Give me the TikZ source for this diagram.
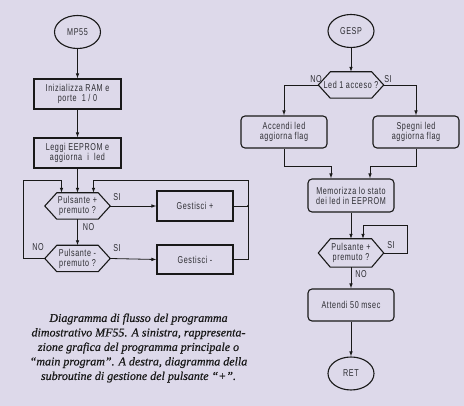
\documentclass[tikz,border=0pt]{standalone}
\usepackage{fontspec}
\setmainfont{Liberation Serif}
\newfontfamily\chartfont[FakeStretch=0.72,LetterSpace=6]{Liberation Sans}
\newfontfamily\capfont[FakeBold=0.6]{Liberation Serif}
\usetikzlibrary{shapes.geometric,arrows.meta}
\definecolor{bg}{RGB}{221,217,234}
\definecolor{ink}{RGB}{25,25,25}
\definecolor{txt}{RGB}{45,45,50}
\newcommand\hexdraw[1]{\draw[hexborder] (#1.west) -- ([xshift=12pt]#1.north west) -- ([xshift=-12pt]#1.north east) -- (#1.east) -- ([xshift=-12pt]#1.south east) -- ([xshift=12pt]#1.south west) -- cycle;}
\begin{document}
\begin{tikzpicture}[x=1pt,y=-1pt,
  chart/.style={font=\chartfont\fontsize{10}{10}\selectfont, text=txt},
  box/.style={chart, draw=ink, line width=1.1pt, rectangle, minimum width=87pt, minimum height=30pt, inner sep=1pt, align=center},
  rbox/.style={box, rounded corners=4pt, minimum width=86pt, minimum height=32pt},
  term/.style={chart, ellipse, draw=ink, line width=1.1pt, minimum width=46pt, minimum height=33pt, inner sep=0pt},
  hexnode/.style={chart, rectangle, draw=none, minimum width=65pt, minimum height=26pt, inner sep=0pt, align=center},
  hexborder/.style={draw=ink, line width=1.1pt},
  flow/.style={draw=ink, line width=0.8pt, -{Latex[length=5pt,width=3.6pt]}},
  conn/.style={draw=ink, line width=0.8pt},
  lbl/.style={chart, inner sep=0pt},
  caption/.style={font=\capfont\itshape\fontsize{12}{14.5}\selectfont, text=ink, align=center, inner sep=0pt}
]
\fill[bg] (0,0) rectangle (464,406);
\useasboundingbox (0,0) rectangle (464,406);

% ---------- left: main program ----------
\node[term] (mp) at (77.5,32) {MP55};
\node[box] (ini) at (77.5,94) {Inizializza RAM e\\porte\ \ 1 / 0};
\node[box] (leg) at (77.5,153) {Leggi EEPROM e\\aggiorna\ \ i\ \ led};
\node[hexnode] (p1) at (77.5,206) {Pulsante +\\premuto ?};
\hexdraw{p1}
\node[hexnode] (p2) at (77.5,258.5) {Pulsante -\\premuto ?};
\hexdraw{p2}
\node[box, minimum width=76pt] (gp) at (195,206) {Gestisci +};
\node[box, minimum width=76pt, minimum height=29pt] (gm) at (195,259.5) {Gestisci -};
\coordinate (jr) at (248,206);
\coordinate (tr) at (248,180);
\coordinate (tl) at (23,180);

\draw[flow] (mp) -- (ini);
\draw[flow] (ini) -- (leg);
\draw[flow] (leg) -- (p1);
\draw[flow] (p1.south) -- (p2.north) node[lbl, pos=0.3, right=5pt] (no1) {NO};
\draw[flow] (p1.east) -- (gp.west);
\draw[flow] (p2.east) -- (gm.west);
\node[lbl] (si1) at (117,197) {SI};
\node[lbl] (si2) at (117,248) {SI};
\node[lbl] (no2) at (38,247) {NO};
\draw[conn] (gp.east) -- (jr);
\draw[flow] (gm.east) -| (tr) -| ([xshift=16pt]p1.north);
\draw[flow] (p2.west) -| (tl) -| ([xshift=-16pt]p1.north);
\fill[ink] (jr) circle (1pt);

% ---------- right: subroutine ----------
\node[term] (ge) at (351,31) {GESP};
\node[hexnode] (l1) at (351,85) {Led 1 acceso ?};
\hexdraw{l1}
\node[rbox] (acc) at (284,132) {Accendi led\\aggiorna flag};
\node[rbox] (spe) at (416,132) {Spegni led\\aggiorna flag};
\node[rbox, minimum height=33pt] (mem) at (351,195.5) {Memorizza lo stato\\dei led in EEPROM};
\node[hexnode, minimum height=28pt] (p3) at (351,253) {Pulsante +\\premuto ?};
\hexdraw{p3}
\node[rbox] (att) at (351,305) {Attendi 50 msec};
\node[term] (ret) at (351,373.5) {RET};
\coordinate (mjl) at (331,166);
\coordinate (mjr) at (370,166);
\coordinate (sl) at (407,225);

\draw[flow] (ge) -- (l1);
\draw[flow] (l1.west) -| (acc.north);
\draw[flow] (l1.east) -| (spe.north);
\node[lbl] (no3) at (316,79) {NO};
\node[lbl] (si3) at (388,79) {SI};
\draw[flow] (acc.south) |- (mjl) -- (mjl |- mem.north);
\draw[flow] (spe.south) |- (mjr) -- (mjr |- mem.north);
\draw[flow] (mem) -- (p3);
\draw[flow] (p3.east) -| (sl) -| ([xshift=12pt]p3.north);
\node[lbl] (si4) at (391,245) {SI};
\draw[flow] (p3) -- (att) node[lbl, pos=0.3, right=4pt] (no4) {NO};
\draw[flow] (att) -- (ret);

% ---------- caption ----------
\node[caption] (cap) at (138.5,348) {Diagramma di flusso del programma\\dimostrativo MF55. A sinistra, rappresenta-\\zione grafica del programma principale o\\“main program”. A destra, diagramma della\\subroutine di gestione del pulsante “+”.};
\end{tikzpicture}
\end{document}
